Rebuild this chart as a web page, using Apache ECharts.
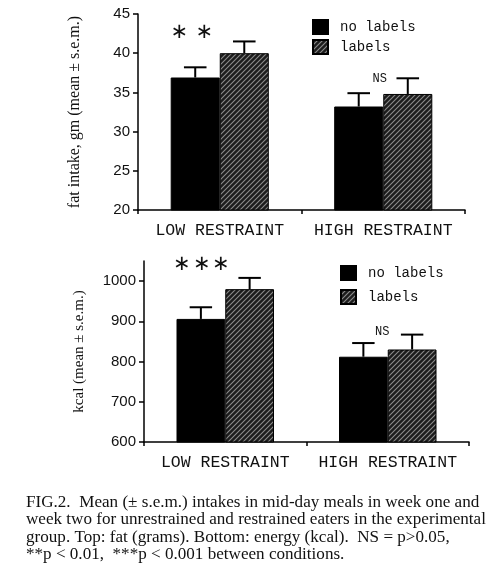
<!DOCTYPE html>
<html>
<head>
<meta charset="utf-8">
<script src="https://cdn.jsdelivr.net/npm/echarts@6/dist/echarts.min.js"></script>
<style>
  html, body { margin: 0; padding: 0; background: #fff; }
  #fig { width: 493px; height: 572px; }
</style>
</head>
<body>
<div id="fig"></div>
<script>
// data
var categories = ['LOW RESTRAINT', 'HIGH RESTRAINT'];
var seriesNames = ['no labels', 'labels'];

var fatNoLabels = [36.9, 33.2];
var fatNoLabelsSem = [1.3, 1.7];
var fatLabels = [40.0, 34.8];
var fatLabelsSem = [1.5, 2.0];
var fatTicks = [20, 25, 30, 35, 40, 45];

var kcalNoLabels = [906, 812];
var kcalNoLabelsSem = [29, 34];
var kcalLabels = [980, 830];
var kcalLabelsSem = [28, 37];
var kcalTicks = [600, 700, 800, 900, 1000];

var caption = [
	'FIG.2.  Mean (\u00b1 s.e.m.) intakes in mid-day meals in week one and',
	'week two for unrestrained and restrained eaters in the experimental',
	'group. Top: fat (grams). Bottom: energy (kcal).  NS = p>0.05,',
	'**p < 0.01,  ***p < 0.001 between conditions.'
];

function hatch() {
	var c = document.createElement('canvas');
	c.width = 5;
	c.height = 5;
	var g = c.getContext('2d');
	g.fillStyle = '#1c1c1c';
	g.fillRect(0, 0, 5, 5);
	g.strokeStyle = '#8c8c8c';
	g.lineWidth = 1.1;
	g.beginPath();
	g.moveTo(0, 5); g.lineTo(5, 0);
	g.moveTo(-1, 1); g.lineTo(1, -1);
	g.moveTo(4, 6); g.lineTo(6, 4);
	g.stroke();
	return c;
}
var hatchFill = {image: hatch(), repeat: 'repeat'};

var mono = '"Liberation Mono", "DejaVu Sans Mono", monospace';
var serif = '"Liberation Serif", "DejaVu Serif", serif';

function errorSeries(means, sems, side, idx) {
	return {
		type: 'custom',
		xAxisIndex: idx,
		yAxisIndex: idx,
		z: 5,
		silent: true,
		data: means.map(function (m, i) { return [i, m, m + sems[i]]; }),
		encode: {x: 0, y: [1, 2]},
		renderItem: function (params, api) {
			var band = api.size([1, 0])[0];
			var barW = band * 0.6 / 2;
			var base = api.coord([api.value(0), api.value(1)]);
			var top = api.coord([api.value(0), api.value(2)]);
			var x = base[0] + side * barW / 2;
			var cap = barW * 0.23;
			var st = {stroke: '#000', lineWidth: 2};
			return {
				type: 'group',
				children: [
					{type: 'line', shape: {x1: x, y1: base[1], x2: x, y2: top[1]}, style: st},
					{type: 'line', shape: {x1: x - cap, y1: top[1], x2: x + cap, y2: top[1]}, style: st}
				]
			};
		}
	};
}

function barSeries(name, values, fill, idx, marks) {
	return {
		name: name,
		type: 'bar',
		xAxisIndex: idx,
		yAxisIndex: idx,
		barGap: 0,
		barCategoryGap: '40%',
		data: values,
		itemStyle: {color: fill, borderColor: '#000', borderWidth: 1},
		emphasis: {disabled: true},
		markPoint: {
			symbol: 'circle',
			symbolSize: 0,
			silent: true,
			data: marks
		}
	};
}

// text note placed at a data point, offset relative to the bar centre
function note(text, cat, value, dx, size) {
	return {
		coord: [cat, value],
		label: {
			show: true,
			formatter: text,
			offset: [dx, 0],
			color: '#111',
			fontFamily: size > 14 ? '"DejaVu Sans", sans-serif' : mono,
			fontSize: size
		}
	};
}

function xAxis(idx) {
	return {
		type: 'category',
		gridIndex: idx,
		data: categories,
		axisLine: {lineStyle: {color: '#000', width: 1.5}},
		axisTick: {show: true, length: 4, lineStyle: {color: '#000', width: 1.5}},
		axisLabel: {interval: 0, color: '#111', fontFamily: mono, fontSize: 16.5, margin: 12}
	};
}

function yAxis(idx, name, min, max, ticks, gap, nameSize) {
	return {
		type: 'value',
		gridIndex: idx,
		min: min,
		max: max,
		name: name,
		nameLocation: 'middle',
		nameRotate: 90,
		nameGap: gap,
		nameTextStyle: {color: '#111', fontFamily: serif, fontSize: nameSize},
		splitLine: {show: false},
		axisLine: {show: true, lineStyle: {color: '#000', width: 1.5}},
		axisTick: {show: true, length: 5, customValues: ticks, lineStyle: {color: '#000', width: 1.5}},
		axisLabel: {
			customValues: ticks,
			formatter: function (v) { return String(v); },
			color: '#111',
			fontFamily: '"Liberation Sans", Arial, sans-serif',
			fontSize: 15,
			margin: 8
		}
	};
}

function legend(left, top, gap) {
	return {
		data: seriesNames,
		orient: 'vertical',
		left: left,
		top: top,
		itemWidth: 15,
		itemHeight: 14,
		itemGap: gap,
		icon: 'rect',
		selectedMode: false,
		textStyle: {color: '#111', fontFamily: mono, fontSize: 14, padding: [0, 0, 0, 7]}
	};
}

var chart = echarts.init(document.getElementById('fig'));
chart.setOption({
	backgroundColor: '#fff',
	animation: false,
	grid: [
		{left: 138, top: 14, width: 327, height: 196},
		{left: 144, top: 261, width: 325, height: 181}
	],
	legend: [legend(307, 14, 4), legend(335, 260, 8)],
	xAxis: [xAxis(0), xAxis(1)],
	yAxis: [
		yAxis(0, 'fat intake, gm (mean \u00b1 s.e.m.)', 20, 45, fatTicks, 55, 16),
		yAxis(1, 'kcal (mean \u00b1 s.e.m.)', 600, 1050, kcalTicks, 57, 15)
	],
	series: [
		barSeries('no labels', fatNoLabels, '#000', 0, [
			note('\u2217', 'LOW RESTRAINT', 42.6, -16, 21),
			note('\u2217', 'LOW RESTRAINT', 42.6, 9, 21)
		]),
		barSeries('labels', fatLabels, hatchFill, 0, [
			note('NS', 'HIGH RESTRAINT', 36.7, -28, 12)
		]),
		errorSeries(fatNoLabels, fatNoLabelsSem, -1, 0),
		errorSeries(fatLabels, fatLabelsSem, 1, 0),
		barSeries('no labels', kcalNoLabels, '#000', 1, [
			note('\u2217', 'LOW RESTRAINT', 1041, -19, 21),
			note('\u2217', 'LOW RESTRAINT', 1041, 1, 21),
			note('\u2217', 'LOW RESTRAINT', 1041, 20, 21)
		]),
		barSeries('labels', kcalLabels, hatchFill, 1, [
			note('NS', 'HIGH RESTRAINT', 875, -30, 12)
		]),
		errorSeries(kcalNoLabels, kcalNoLabelsSem, -1, 1),
		errorSeries(kcalLabels, kcalLabelsSem, 1, 1)
	],
	graphic: [{
		type: 'text',
		left: 26,
		top: 494,
		silent: true,
		style: {
			text: caption.join('\n'),
			fill: '#111',
			fontFamily: serif,
			fontSize: 17.1,
			lineHeight: 17.3
		}
	}]
});
</script>
</body>
</html>
